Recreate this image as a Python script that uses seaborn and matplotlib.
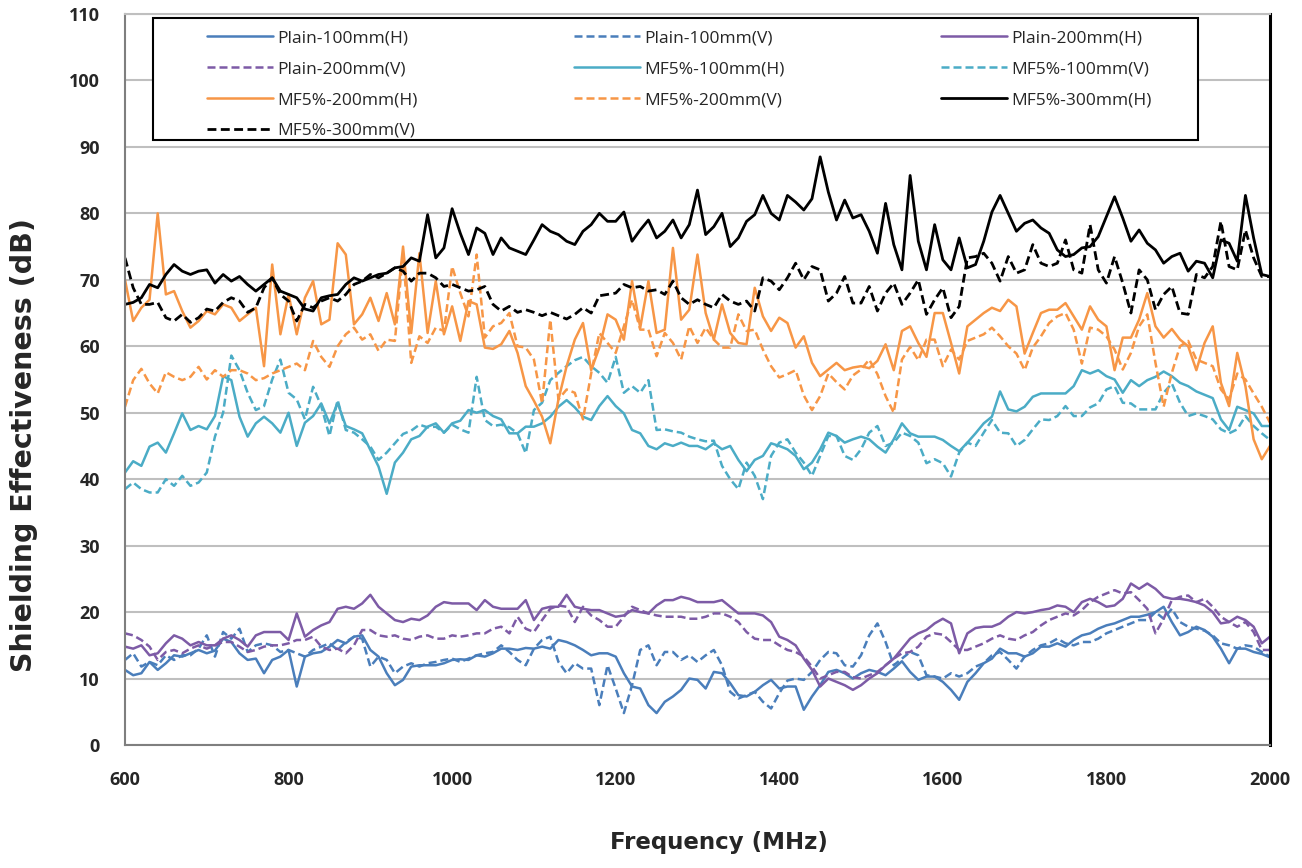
import numpy as np
import pandas as pd
import seaborn as sns
import matplotlib.pyplot as plt
from matplotlib.patches import Rectangle

# frequency grid (MHz), 10 MHz steps from 600 to 2000
freq = np.arange(600, 2001, 10)

# Shielding effectiveness (dB)
plain100_h = [11.3, 10.5, 10.8, 12.5, 11.3, 12.3, 13.5, 13.3, 13.8, 14.3,
              13.8, 14.2, 16.0, 15.5, 13.8, 12.8, 13.0, 10.8, 12.8, 13.3,
              14.3, 8.8, 13.3, 13.8, 14.0, 14.8, 15.8, 15.3, 16.3, 16.5,
              14.3, 13.3, 10.8, 9.0, 9.8, 11.8, 12.0, 12.0, 12.0, 12.3,
              12.8, 12.9, 12.8, 13.5, 13.3, 13.8, 14.5, 14.5, 14.3, 14.6,
              14.5, 14.8, 14.5, 15.8, 15.5, 15.0, 14.3, 13.5, 13.8, 13.8,
              13.3, 10.8, 8.8, 8.5, 6.0, 4.8, 6.5, 7.3, 8.3, 10.0,
              9.8, 8.5, 11.0, 10.8, 9.3, 7.5, 7.3, 8.0, 9.0, 9.8,
              8.5, 8.8, 8.8, 5.3, 7.3, 9.0, 11.0, 11.3, 10.8, 10.0,
              10.8, 11.3, 11.0, 10.5, 11.5, 12.6, 11.0, 9.8, 10.3, 10.3,
              9.5, 8.3, 6.8, 9.5, 10.8, 12.3, 13.0, 14.5, 13.8, 13.8,
              13.3, 13.8, 14.8, 14.8, 15.3, 14.8, 15.8, 16.5, 16.8, 17.5,
              18.0, 18.3, 18.8, 19.3, 19.3, 19.6, 20.0, 20.8, 18.5, 16.5,
              17.0, 17.8, 17.3, 16.3, 14.5, 12.3, 14.5, 14.5, 14.0, 13.7,
              13.2]

plain100_v = [12.8, 13.8, 11.8, 12.5, 12.0, 13.5, 12.8, 13.5, 13.5, 14.5,
              16.5, 13.3, 17.0, 16.0, 17.5, 14.0, 15.0, 15.3, 15.0, 14.0,
              14.3, 13.8, 13.3, 14.3, 14.8, 15.3, 14.3, 15.5, 16.3, 16.0,
              11.8, 13.3, 12.8, 10.8, 11.8, 12.3, 11.8, 12.3, 12.5, 12.8,
              13.0, 12.5, 13.0, 13.5, 13.8, 14.0, 15.0, 14.0, 12.8, 12.0,
              14.5, 15.8, 16.3, 12.5, 10.8, 12.3, 11.5, 11.5, 6.0, 12.0,
              8.5, 4.8, 9.0, 14.3, 15.0, 12.0, 14.0, 14.0, 12.8, 13.5,
              12.5, 13.5, 14.3, 12.0, 8.0, 7.0, 7.5, 8.0, 6.5, 5.5,
              7.8, 9.7, 10.0, 9.8, 11.0, 12.8, 14.0, 13.8, 12.0, 11.8,
              13.5, 16.5, 18.3, 15.5, 12.0, 13.0, 14.0, 13.5, 10.5, 10.3,
              10.0, 10.8, 10.3, 10.8, 11.8, 12.3, 13.5, 14.0, 12.8, 11.5,
              13.3, 14.3, 15.0, 15.3, 16.0, 15.3, 15.0, 15.5, 15.5, 16.0,
              16.8, 17.3, 17.8, 18.3, 18.8, 18.8, 20.0, 19.0, 20.5, 18.5,
              17.8, 17.5, 17.2, 16.5, 15.3, 15.0, 14.5, 15.0, 14.8, 14.0,
              13.3]

plain200_h = [14.8, 14.5, 15.0, 13.5, 13.8, 15.3, 16.5, 16.0, 15.0, 15.5,
              15.0, 15.0, 16.0, 16.5, 15.8, 14.8, 16.5, 17.0, 17.0, 17.0,
              15.8, 19.8, 16.3, 17.3, 18.0, 18.5, 20.5, 20.8, 20.5, 21.3,
              22.6, 20.8, 19.8, 18.8, 18.5, 19.0, 18.8, 19.5, 20.8, 21.5,
              21.3, 21.3, 21.3, 20.3, 21.8, 20.8, 20.5, 20.5, 20.5, 21.8,
              18.8, 20.5, 20.8, 20.8, 22.6, 20.8, 20.5, 20.3, 20.3, 19.8,
              19.3, 19.5, 20.3, 20.0, 19.8, 21.0, 21.8, 21.8, 22.3, 22.0,
              21.5, 21.5, 21.5, 21.8, 20.8, 19.8, 19.8, 19.8, 19.5, 18.5,
              16.3, 15.8, 15.0, 13.0, 11.3, 8.8, 10.0, 9.5, 9.0, 8.3,
              9.0, 10.0, 10.8, 12.0, 13.0, 14.5, 16.0, 16.8, 17.3, 18.3,
              19.0, 18.3, 13.8, 16.8, 17.6, 17.8, 17.8, 18.3, 19.3, 20.0,
              19.8, 20.0, 20.3, 20.5, 21.0, 20.8, 20.0, 21.5, 22.0, 21.5,
              20.8, 21.0, 22.0, 24.3, 23.5, 24.3, 23.5, 22.3, 22.0, 22.0,
              21.8, 21.5, 21.0, 20.0, 18.3, 18.5, 19.3, 18.8, 17.8, 15.3,
              16.3]

plain200_v = [16.8, 16.5, 15.8, 14.8, 12.8, 14.0, 14.3, 13.8, 14.5, 15.0,
              14.5, 15.0, 15.5, 15.5, 14.8, 14.0, 14.3, 14.8, 15.0, 15.0,
              15.3, 15.8, 15.8, 16.3, 14.8, 14.3, 14.5, 13.8, 15.0, 17.3,
              17.3, 16.5, 16.3, 16.5, 16.0, 15.8, 16.3, 16.5, 16.0, 16.0,
              16.5, 16.3, 16.5, 16.8, 16.8, 17.5, 17.8, 16.8, 19.3, 17.5,
              17.0, 18.8, 20.5, 21.0, 20.8, 18.5, 20.8, 19.5, 18.8, 17.8,
              17.8, 19.3, 20.8, 20.3, 19.8, 19.5, 19.3, 19.3, 19.3, 19.0,
              19.0, 19.3, 19.8, 19.8, 19.3, 18.5, 17.0, 16.0, 15.8, 15.8,
              15.0, 14.3, 14.0, 13.3, 11.8, 10.0, 10.5, 11.0, 11.0, 10.2,
              10.0, 10.5, 11.0, 12.0, 13.0, 13.8, 14.0, 14.8, 16.3, 16.8,
              16.6, 15.5, 14.3, 14.3, 14.8, 15.3, 16.0, 16.5, 16.0, 15.8,
              16.5, 17.0, 18.0, 18.8, 19.3, 19.8, 19.5, 20.3, 21.5, 22.3,
              22.8, 23.3, 22.8, 23.0, 21.8, 20.5, 16.8, 19.0, 21.8, 22.3,
              22.5, 21.5, 22.0, 20.8, 19.3, 18.5, 17.8, 18.5, 17.0, 14.3,
              14.3]

mf100_h = [41.0, 42.7, 42.0, 44.9, 45.5, 44.0, 46.9, 49.9, 47.4, 48.0,
           47.5, 49.5, 55.5, 54.9, 49.4, 46.4, 48.4, 49.4, 48.4, 47.0,
           50.0, 45.0, 48.5, 49.5, 51.4, 48.4, 51.5, 48.0, 47.5, 46.9,
           44.4, 41.9, 37.8, 42.5, 44.0, 46.0, 46.5, 47.9, 48.4, 47.0,
           48.4, 48.8, 50.4, 50.0, 50.4, 49.5, 49.0, 46.9, 46.9, 47.9,
           47.9, 48.4, 49.4, 50.9, 51.9, 50.8, 49.4, 48.9, 51.0, 52.5,
           51.0, 49.9, 47.4, 46.9, 45.0, 44.5, 45.4, 45.0, 45.5, 45.0,
           45.0, 44.5, 45.4, 44.5, 45.0, 42.9, 41.2, 42.9, 43.5, 45.4,
           45.0, 44.5, 43.5, 41.5, 42.5, 44.5, 47.0, 46.5, 45.5, 46.0,
           46.4, 46.0, 44.9, 44.0, 46.0, 48.4, 46.9, 46.4, 46.4, 46.4,
           45.9, 45.0, 44.2, 45.5, 46.9, 48.4, 49.4, 53.2, 50.5, 50.2,
           50.9, 52.4, 52.9, 52.9, 52.9, 52.9, 54.0, 56.4, 55.9, 56.4,
           55.5, 55.0, 53.0, 54.9, 54.0, 54.9, 55.4, 56.2, 55.5, 54.5,
           54.0, 53.2, 52.7, 52.2, 49.0, 47.4, 50.9, 50.4, 49.9, 48.0,
           48.0]

mf100_v = [38.5, 39.5, 38.5, 38.0, 38.0, 40.0, 39.0, 40.5, 39.0, 39.5,
           41.0, 46.4, 50.0, 58.6, 56.4, 53.0, 50.4, 51.0, 55.0, 58.0,
           53.0, 52.0, 49.0, 53.9, 51.0, 46.5, 51.9, 47.4, 47.0, 46.0,
           44.9, 42.9, 44.0, 45.4, 46.8, 47.3, 48.2, 47.8, 47.9, 47.0,
           48.2, 47.5, 47.0, 55.4, 48.9, 48.0, 48.2, 47.8, 46.9, 43.9,
           50.4, 51.5, 54.9, 56.0, 57.0, 57.9, 58.4, 57.0, 56.0, 54.5,
           58.4, 53.0, 54.0, 53.0, 54.9, 47.4, 47.5, 47.2, 47.0, 46.4,
           46.0, 45.7, 45.8, 42.0, 40.0, 38.5, 42.5, 40.5, 37.0, 43.5,
           45.5, 46.0, 44.0, 42.5, 40.5, 43.5, 46.5, 46.5, 43.5, 42.9,
           44.5, 47.0, 48.0, 45.0, 45.5, 47.0, 46.5, 45.5, 42.4, 43.0,
           42.4, 40.4, 44.0, 45.5, 45.0, 47.0, 48.9, 47.0, 46.9, 45.0,
           45.9, 47.5, 49.0, 48.9, 49.5, 51.0, 49.5, 49.5, 50.8, 51.4,
           53.5, 54.0, 51.5, 51.4, 50.5, 50.5, 50.5, 53.0, 54.4, 51.5,
           49.5, 49.9, 49.5, 49.0, 47.5, 46.9, 47.5, 49.5, 48.0, 46.9,
           45.9]

mf200_h = [70.0, 63.8, 65.8, 67.0, 80.0, 67.8, 68.3, 65.3, 62.8, 63.8,
           65.3, 64.8, 66.3, 65.8, 63.8, 64.8, 65.8, 57.0, 72.3, 61.8,
           67.8, 61.8, 67.3, 69.8, 63.3, 64.0, 75.5, 73.8, 63.3, 64.8,
           67.3, 63.8, 68.0, 63.3, 75.0, 62.0, 74.0, 62.0, 69.8, 61.8,
           66.0, 60.8, 66.8, 66.3, 59.8, 59.6, 60.3, 62.3, 59.0, 54.0,
           51.8, 49.4, 45.4, 52.0, 57.0, 61.0, 63.5, 56.4, 59.8, 64.8,
           64.0, 61.0, 69.8, 62.8, 69.8, 62.0, 62.5, 74.8, 64.0, 65.5,
           73.8, 65.0, 61.0, 66.3, 62.0, 60.5, 60.3, 68.8, 64.5, 62.3,
           64.3, 63.5, 59.8, 61.5, 57.5, 55.5, 56.5, 57.5, 56.4, 56.8,
           57.0, 56.7, 57.8, 60.3, 56.4, 62.3, 63.0, 60.5, 58.4, 65.0,
           65.0, 60.5, 55.9, 63.0, 64.0, 65.0, 65.8, 65.3, 67.0, 66.0,
           58.9, 62.0, 65.0, 65.5, 65.5, 66.5, 64.5, 62.5, 66.0, 64.0,
           63.0, 56.4, 61.3, 61.3, 64.0, 68.0, 63.0, 61.3, 62.6, 61.0,
           60.0, 56.4, 60.5, 63.0, 54.5, 51.0, 59.0, 54.0, 46.0, 43.0,
           45.0]

mf200_v = [50.9, 54.9, 56.6, 54.4, 52.9, 56.1, 55.4, 54.9, 55.4, 56.9,
           55.0, 56.4, 55.4, 56.4, 56.4, 55.9, 54.9, 55.2, 55.9, 56.4,
           56.9, 57.4, 56.4, 60.8, 58.4, 56.9, 60.0, 61.8, 62.8, 61.0,
           61.8, 59.3, 61.0, 60.8, 74.0, 57.5, 61.5, 60.5, 62.8, 62.3,
           72.0, 68.0, 64.5, 73.8, 61.3, 63.0, 63.5, 65.0, 60.0, 59.8,
           58.0, 51.4, 64.0, 52.0, 53.5, 53.0, 49.0, 55.9, 62.0, 60.5,
           59.0, 63.0, 67.0, 62.5, 62.5, 58.5, 62.0, 60.5, 58.0, 63.0,
           60.5, 62.8, 61.0, 59.8, 59.8, 64.8, 62.3, 62.5, 59.5, 57.0,
           55.3, 55.8, 56.4, 52.6, 50.4, 52.5, 55.9, 54.6, 53.5, 55.6,
           56.5, 58.0, 55.8, 52.5, 50.0, 58.0, 59.9, 57.9, 61.0, 61.0,
           57.0, 59.5, 58.0, 60.8, 61.3, 61.8, 62.8, 61.5, 60.0, 58.9,
           56.4, 59.8, 61.5, 63.5, 64.5, 65.0, 62.5, 57.4, 62.8, 62.5,
           61.5, 59.5, 56.5, 59.0, 63.0, 64.8, 57.5, 50.9, 56.0, 60.0,
           60.8, 58.0, 57.5, 57.0, 53.5, 52.0, 55.9, 55.0, 52.9, 50.9,
           48.5]

mf300_h = [66.3, 66.6, 67.3, 69.3, 68.8, 70.8, 72.3, 71.3, 70.8, 71.3,
           71.5, 69.5, 70.8, 69.8, 70.5, 69.3, 68.3, 69.3, 70.3, 68.3,
           67.8, 67.3, 65.6, 65.3, 67.3, 67.6, 67.8, 69.3, 70.3, 69.8,
           70.3, 70.8, 71.0, 71.8, 72.0, 73.3, 72.8, 79.8, 73.3, 74.8,
           80.7, 77.0, 73.8, 77.8, 77.0, 73.8, 76.3, 74.8, 74.3, 73.8,
           76.0, 78.3, 77.3, 76.8, 75.8, 75.3, 77.3, 78.3, 80.0, 78.8,
           78.8, 80.2, 75.8, 77.5, 79.0, 76.3, 77.3, 79.0, 76.3, 78.3,
           83.5, 76.8, 78.0, 80.0, 75.0, 76.3, 78.8, 79.8, 82.7, 80.0,
           79.0, 82.7, 81.7, 80.5, 82.2, 88.5, 83.2, 79.0, 82.0, 79.3,
           79.8, 77.3, 74.0, 81.5, 75.3, 71.5, 85.7, 75.8, 71.5, 78.3,
           73.0, 71.5, 76.3, 71.8, 72.3, 75.8, 80.2, 82.7, 80.0, 77.3,
           78.5, 79.0, 77.8, 77.0, 74.5, 73.5, 73.8, 74.8, 75.0, 76.5,
           79.5, 82.5, 79.3, 75.8, 77.5, 75.5, 74.5, 72.5, 73.5, 74.0,
           71.3, 72.8, 72.5, 70.3, 76.0, 75.5, 72.8, 82.7, 76.3, 70.8,
           70.5]

mf300_v = [73.3, 68.8, 66.3, 66.3, 66.6, 64.3, 63.8, 64.8, 63.6, 64.3,
           65.6, 65.3, 66.6, 67.3, 66.8, 65.1, 65.8, 68.8, 70.3, 67.8,
           66.8, 63.8, 66.3, 65.8, 66.8, 67.3, 66.8, 67.8, 69.3, 69.8,
           70.8, 70.3, 71.0, 71.8, 71.3, 69.8, 71.0, 71.0, 70.3, 69.0,
           69.3, 68.8, 68.3, 68.5, 69.0, 66.3, 65.3, 66.0, 65.1, 65.5,
           65.1, 64.6, 65.1, 64.6, 64.1, 64.8, 65.8, 65.0, 67.6, 67.8,
           68.0, 69.3, 68.8, 69.0, 68.3, 68.5, 67.8, 69.8, 67.3, 66.3,
           67.0, 66.3, 65.8, 67.8, 66.8, 66.3, 66.8, 65.3, 70.3, 69.8,
           68.5, 70.3, 72.5, 70.0, 72.0, 71.5, 66.8, 68.0, 70.5, 66.5,
           66.5, 69.0, 65.3, 68.0, 69.5, 66.3, 68.0, 70.0, 64.8, 67.0,
           68.8, 64.3, 66.0, 73.3, 73.5, 74.0, 72.5, 69.8, 73.5, 71.0,
           71.5, 75.3, 72.5, 72.0, 72.5, 76.0, 71.5, 71.0, 78.3, 71.5,
           69.5, 73.5, 69.5, 65.0, 71.5, 70.0, 65.5, 67.8, 69.0, 65.0,
           64.8, 70.8, 70.3, 72.0, 78.8, 72.0, 71.5, 77.5, 73.3, 70.5,
           70.5]

labels = ['Plain-100mm(H)', 'Plain-100mm(V)', 'Plain-200mm(H)', 'Plain-200mm(V)',
          'MF5%-100mm(H)', 'MF5%-100mm(V)', 'MF5%-200mm(H)', 'MF5%-200mm(V)',
          'MF5%-300mm(H)', 'MF5%-300mm(V)']
values = [plain100_h, plain100_v, plain200_h, plain200_v,
          mf100_h, mf100_v, mf200_h, mf200_v, mf300_h, mf300_v]
colors = ['#4a7ebb', '#4a7ebb', '#7d5ba6', '#7d5ba6',
          '#4bacc6', '#4bacc6', '#f79646', '#f79646', '#000000', '#000000']

sns.set_style('white')
plt.rcParams['font.family'] = ['Open Sans', 'DejaVu Sans']

fig = plt.figure(figsize=(13.02, 8.68), dpi=100)
ax = fig.add_axes([0.096, 0.1417, 0.8794, 0.8422])

for lab, vals, col in zip(labels, values, colors):
    dashed = lab.endswith('(V)')
    ls = (0, (3.2, 1.6)) if dashed else '-'
    lw = 2.0 if col == '#000000' else 1.8
    sns.lineplot(x=freq, y=vals, ax=ax, color=col, linewidth=lw,
                 linestyle=ls, label=lab, errorbar=None)

ax.set_xlim(600, 2000)
ax.set_ylim(0, 110)
ax.set_xticks(np.arange(600, 2001, 200))
ax.set_yticks(np.arange(0, 111, 10))
ax.yaxis.grid(True, color='#bfbfbf', linewidth=1.5)
ax.xaxis.grid(False)
ax.set_axisbelow(True)

for side in ['left', 'bottom']:
    ax.spines[side].set_color('#7f7f7f')
    ax.spines[side].set_linewidth(1.5)
ax.spines['top'].set_color('#bfbfbf')
ax.spines['top'].set_linewidth(1.5)
ax.spines['right'].set_color('black')
ax.spines['right'].set_linewidth(2.2)

ax.tick_params(axis='both', which='major', direction='out', length=4,
               color='#7f7f7f', labelsize=13)
ax.tick_params(axis='y', pad=14)
ax.tick_params(axis='x', pad=15)
for t in ax.get_xticklabels() + ax.get_yticklabels():
    t.set_fontweight('bold')

ax.set_xlabel('Frequency (MHz)', fontsize=16.5, fontweight='bold',
              family='DejaVu Sans')
ax.set_ylabel('Shielding Effectiveness (dB)', fontsize=20.5, fontweight='bold',
              family='DejaVu Sans')
ax.xaxis.set_label_coords(0.519, -0.118)
ax.yaxis.set_label_coords(-0.076, 0.41)

# legend: 3 columns filled row by row, as in the reference
handles, labs = ax.get_legend_handles_labels()
order = [0, 3, 6, 9, 1, 4, 7, 2, 5, 8]
box = Rectangle((0.02445, 0.8276), 0.9127, 0.1669, transform=ax.transAxes,
                facecolor='white', edgecolor='black', linewidth=1.5, zorder=5)
ax.add_patch(box)
leg = ax.legend([handles[i] for i in order], [labs[i] for i in order],
                ncol=3, loc='upper left',
                bbox_to_anchor=(0.0716, 0.978),
                frameon=False, fontsize=12.5, handlelength=3.8,
                handletextpad=0.25, labelspacing=0.85, borderpad=0,
                borderaxespad=0, columnspacing=9.0)
leg.set_zorder(6)

fig.savefig('out.png', dpi=100)
